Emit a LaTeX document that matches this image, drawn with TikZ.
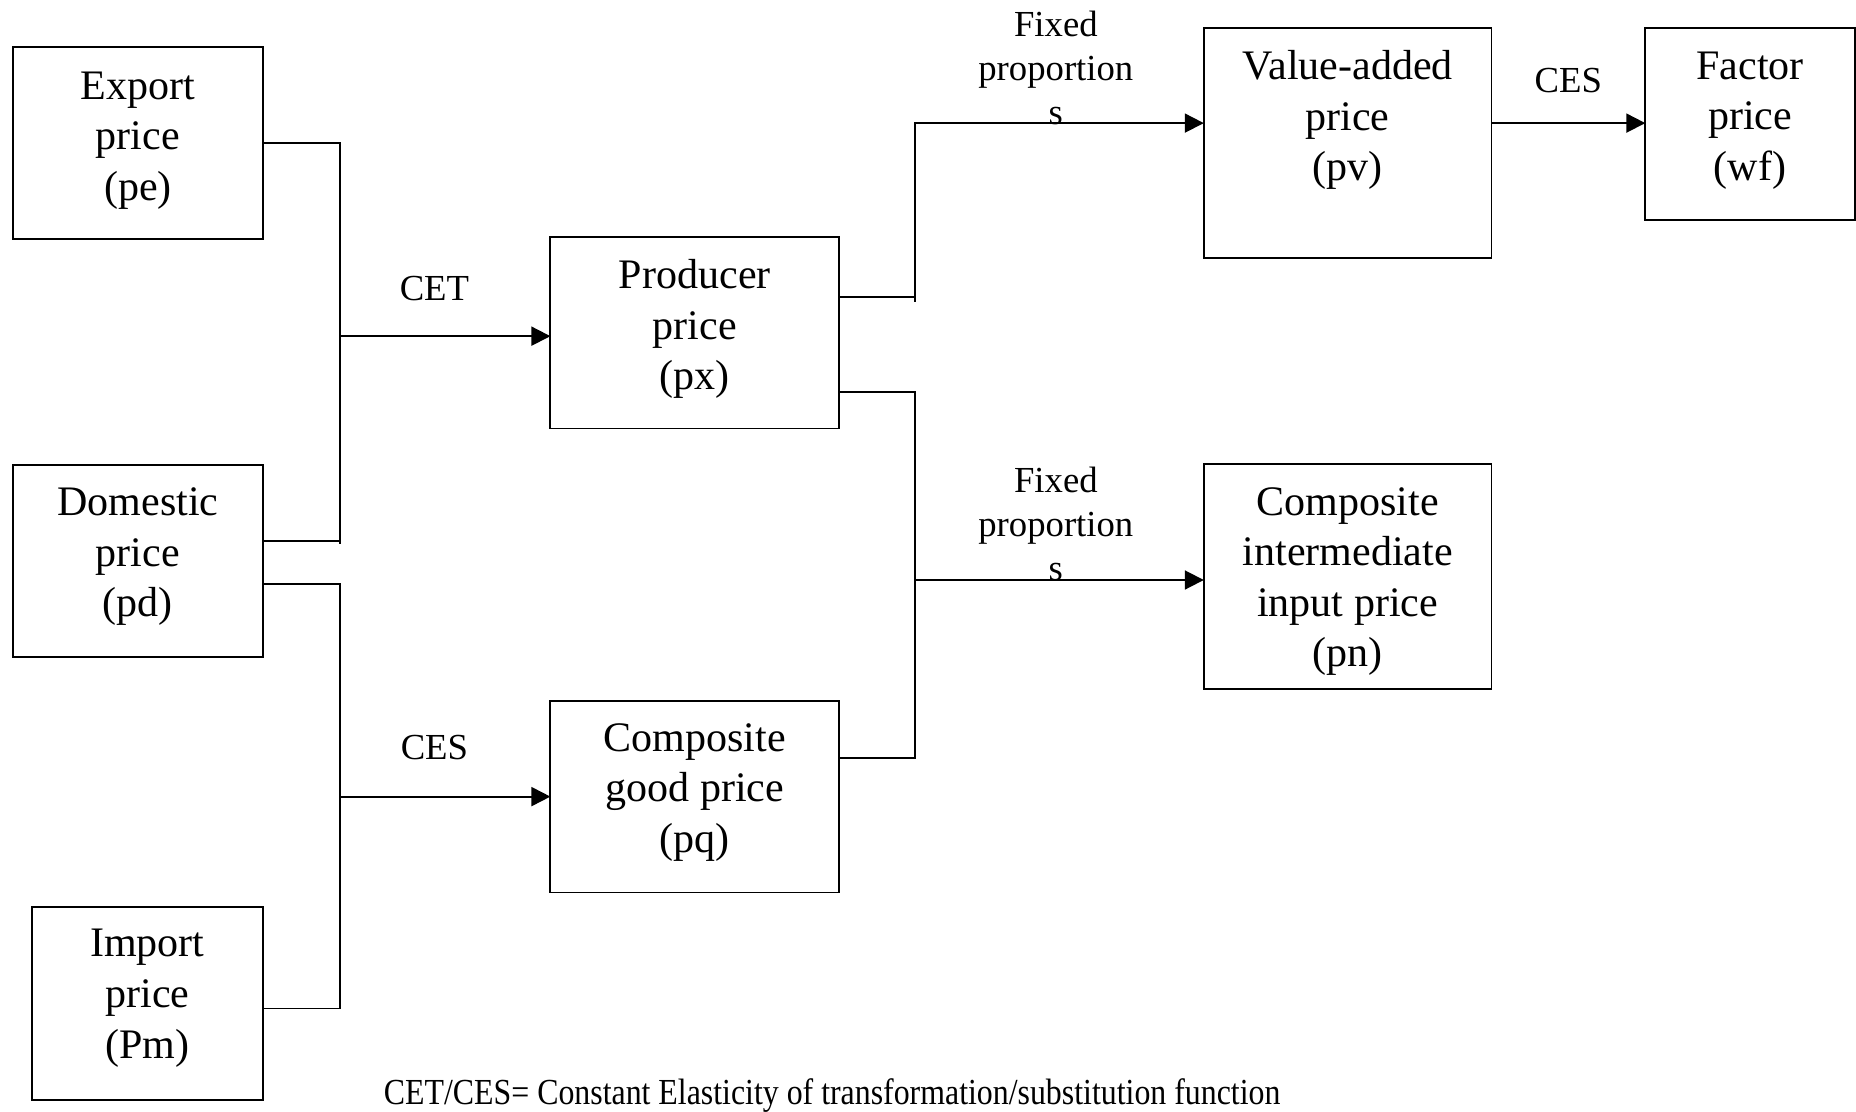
\documentclass[tikz,border=0pt]{standalone}
\usepackage{fontspec}
\setmainfont{Liberation Serif}
\usetikzlibrary{arrows.meta}
\begin{document}
\begin{tikzpicture}[x=1pt,y=-1pt,
  box/.style={draw, line width=1.6pt, inner sep=0pt, outer sep=0pt},
  boxtext/.style={anchor=north, align=center, inner sep=0pt, font=\fontsize{35.5}{42.7}\selectfont},
  lbl/.style={anchor=base, inner sep=0pt, font=\fontsize{31}{37}\selectfont},
  lblthree/.style={anchor=north, align=center, inner sep=0pt, font=\fontsize{31}{37}\selectfont},
  conn/.style={line width=1.6pt},
  arr/.style={conn, -{Triangle[length=16pt,width=16pt]}}]

\useasboundingbox (0,0) rectangle (1568,939);

% boxes
\node[box, minimum width=211pt, minimum height=162pt] (ex) at (116.5,121) {};
\node[boxtext] (ext) at ([yshift=-20.5pt]ex.north) {Export\\price\\(pe)};

\node[box, minimum width=211pt, minimum height=162pt] (dom) at (116.5,474) {};
\node[boxtext] (domt) at ([yshift=-19pt]dom.north) {Domestic\\price\\(pd)};

\node[box, minimum width=195pt, minimum height=163pt] (im) at (124.5,847.5) {};
\node[boxtext] (imt) at ([yshift=-19pt]im.north) {Import\\price\\(Pm)};

\node[box, minimum width=244pt, minimum height=162pt] (pr) at (587,281) {};
\node[boxtext] (prt) at ([yshift=-19pt]pr.north) {Producer\\price\\(px)};

\node[box, minimum width=244pt, minimum height=162pt] (cg) at (587,673) {};
\node[boxtext] (cgt) at ([yshift=-19pt]cg.north) {Composite\\good price\\(pq)};

\node[box, minimum width=243pt, minimum height=194pt] (va) at (1138.5,121) {};
\node[boxtext] (vat) at ([yshift=-18.5pt]va.north) {Value-added\\price\\(pv)};

\node[box, minimum width=177pt, minimum height=162pt] (fa) at (1478.5,105) {};
\node[boxtext] (fat) at ([yshift=-19.5pt]fa.north) {Factor\\price\\(wf)};

\node[box, minimum width=243pt, minimum height=190pt] (ci) at (1138.5,487) {};
\node[boxtext] (cit) at ([yshift=-19.5pt]ci.north) {Composite\\intermediate\\input price\\(pn)};

% labels
\node[lbl] (cet) at (367,254) {CET};
\node[lbl] (cesa) at (367,642) {CES};
\node[lbl] (cesb) at (1325,78) {CES};
\node[lblthree] (fpa) at (892,9.5) {Fixed\\proportion\\s};
\node[lblthree] (fpb) at (892,394.5) {Fixed\\proportion\\s};
\node[lbl] (note) at (703,933) {\scalebox{0.868}[1]{CET/CES= Constant Elasticity of transformation/substitution function}};

% bus coordinates
\coordinate (cetend) at (287,460);
\coordinate (cetbus) at (287,284);
\coordinate (cesbus) at (287,673);
\coordinate (fpx) at (773,255);
\coordinate (fpbus) at (773,490);

% CET connectors
\draw[conn] (ex.east) -| (cetend);
\draw[conn] ([yshift=17pt]dom.east) -- ([yshift=17pt]dom.east -| cetend);
\draw[arr] (cetbus) -- (cetbus -| pr.west);

% CES connectors
\draw[conn] ([yshift=-19pt]dom.east) -| (cesbus) |- ([yshift=-4.5pt]im.east);
\draw[arr] (cesbus) -- (cesbus -| cg.west);

% fixed proportions (upper)
\draw[conn] ([yshift=30pt]pr.east) -- ([yshift=30pt]pr.east -| fpx);
\draw[arr] (fpx) |- ([yshift=17pt]va.west);

% fixed proportions (lower)
\draw[conn] ([yshift=-50pt]pr.east) -| (fpbus) |- ([yshift=33pt]cg.east);
\draw[arr] (fpbus) -- (fpbus -| ci.west);

% CES to factor price
\draw[arr] ([yshift=17pt]va.east) -- ([yshift=17pt]va.east -| fa.west);

\end{tikzpicture}
\end{document}
